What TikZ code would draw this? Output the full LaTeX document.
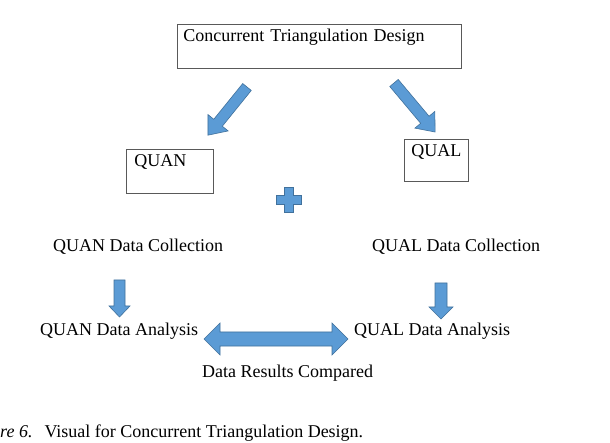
\documentclass[tikz,border=0pt]{standalone}
\usepackage{fontspec}
\setmainfont{Liberation Serif}
\usepackage{xcolor}
\usepackage{tikz}
\usetikzlibrary{positioning}

\definecolor{arrowblue}{HTML}{5B9BD5}
\definecolor{arrowedge}{HTML}{41719C}
\definecolor{boxgray}{HTML}{595959}

\tikzset{
    arrowbody/.style={fill=arrowblue, draw=arrowedge, line width=0.6pt, line join=miter},
    box/.style={draw=boxgray, line width=0.8pt, rectangle, anchor=north west,
        inner ysep=4pt, text height=13pt, align=left},
    lbl/.style={anchor=base west, inner sep=0pt},
    pics/blockarr/.style n args={4}{code={
        \draw[arrowbody] (0,#2/2) -- ({#1-#4},#2/2) -- ({#1-#4},#3/2) -- (#1,0)
            -- ({#1-#4},-#3/2) -- ({#1-#4},-#2/2) -- (0,-#2/2) -- cycle;
    }},
    pics/dblarr/.style n args={4}{code={
        \draw[arrowbody] (0,0) -- (#4,#3/2) -- (#4,#2/2) -- ({#1-#4},#2/2) -- ({#1-#4},#3/2)
            -- (#1,0) -- ({#1-#4},-#3/2) -- ({#1-#4},-#2/2) -- (#4,-#2/2) -- (#4,-#3/2) -- cycle;
    }}
}

\begin{document}
\begin{tikzpicture}[x=1pt, y=-1pt, every node/.append style={font=\fontsize{18}{21}\selectfont}]
    \useasboundingbox (0,0) rectangle (610,443);

    % boxes
    \node[box, inner xsep=6pt, text width=272pt, text depth=23pt] (design) at (177,24) {Concurrent Triangulation Design};
    \node[box, inner xsep=8pt, text width=71pt, text depth=23pt] (quan) at (126,149) {QUAN};
    \node[box, inner xsep=7pt, text width=50pt, text depth=21pt] (qual) at (404,139) {QUAL};

    % plain labels
    \node[lbl] (quancoll) at (53,252) {QUAN Data Collection};
    \node[lbl] (qualcoll) at (372,252) {QUAL Data Collection};
    \node[lbl] (quanana) at (40,335) {QUAN Data Analysis};
    \node[lbl] (qualana) at (354,335) {QUAL Data Analysis};
    \node[lbl] (compared) at (202,377) {Data Results Compared};
    \node[lbl] (caption) at (-34,437) {\textit{Figure 6.}\hspace{12pt}Visual for Concurrent Triangulation Design.};

    % block arrows
    \pic[rotate=231] (toquan) at (247,87) {blockarr={62}{11}{26}{16}};
    \pic[rotate=-50] (toqual) at (394,83) {blockarr={64}{11}{26}{16}};
    \pic[rotate=-90] (quandown) at (119.5,280) {blockarr={37}{11}{21}{11}};
    \pic[rotate=-90] (qualdown) at (441,283) {blockarr={36}{12}{24}{12}};
    \pic (both) at (204,339) {dblarr={144}{14}{32}{16}};

    % plus sign
    \coordinate (plus) at (289,200);
    \draw[arrowbody] ([shift={(-4.5,-12.5)}]plus) -- ++(9,0) -- ++(0,8) -- ++(8,0) -- ++(0,9)
        -- ++(-8,0) -- ++(0,8) -- ++(-9,0) -- ++(0,-8) -- ++(-8,0) -- ++(0,-9) -- ++(8,0) -- cycle;
\end{tikzpicture}
\end{document}
